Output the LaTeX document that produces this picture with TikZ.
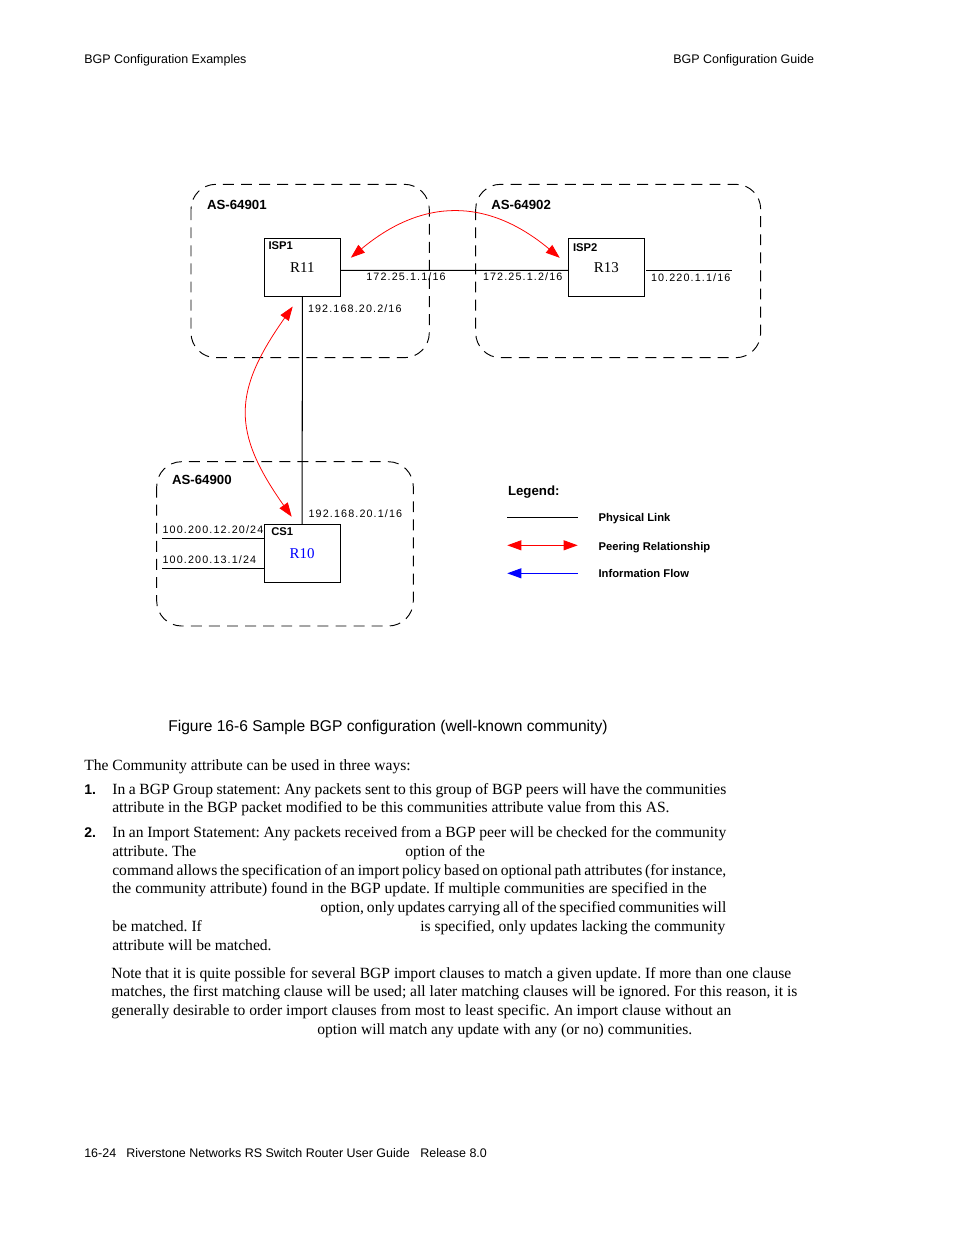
\documentclass[tikz,border=0pt]{standalone}
\usepackage{fontspec}
\setmainfont{Liberation Serif}
\setsansfont{Liberation Sans}
\newfontfamily\ipfont[LetterSpace=10.5]{Liberation Sans}
\usepackage{tikz}
\usetikzlibrary{arrows.meta,positioning,calc}
\newlength\pxu
\setlength\pxu{0.6415pt}
\newcommand\jl[2]{\makebox[#1\pxu][s]{#2}}
\frenchspacing

\begin{document}
\begin{tikzpicture}[x=0.6415pt, y=0.6415pt,
  every node/.style={inner sep=0pt, anchor=base west},
  asbox/.style={draw, line width=0.6pt, dash pattern=on 7pt off 4.6pt, rounded corners=16pt},
  router/.style={draw, line width=0.65pt, anchor=center, minimum width=48.8pt, minimum height=37pt, font=\fontsize{9.6}{10}\selectfont},
  aslabel/.style={font=\sffamily\bfseries\fontsize{8.5}{10}\selectfont},
  tag/.style={font=\sffamily\bfseries\fontsize{7.2}{8}\selectfont},
  ip/.style={font=\ipfont\fontsize{6.9}{8}\selectfont},
  link/.style={line width=0.65pt},
  peer/.style={red, line width=0.5pt, {Triangle[length=9pt,width=6.4pt]}-{Triangle[length=9pt,width=6.4pt]}},
  flow/.style={blue, line width=0.5pt, {Triangle[length=9pt,width=6.4pt]}-},
  hdr/.style={font=\sffamily\fontsize{8}{10}\selectfont},
  body/.style={font=\fontsize{10}{12}\selectfont},
  num/.style={font=\sffamily\bfseries\fontsize{9}{12}\selectfont}]
  \useasboundingbox (0,0) rectangle (954,-1235);

  % page head and foot
  \node[hdr] (headl) at (84,-63.5) {BGP Configuration Examples};
  \node[hdr] (headr) at (673,-63.5) {BGP Configuration Guide};
  \node[hdr] (footp) at (84,-1157) {16-24};
  \node[hdr] (foott) at (126,-1157) {Riverstone Networks RS Switch Router User Guide};
  \node[hdr] (footr) at (420,-1157) {Release 8.0};

  % autonomous systems
  \draw[asbox] (191,-184.3) rectangle (429.3,-357.7);
  \draw[asbox] (475.7,-184.3) rectangle (760.7,-357.7);
  \draw[asbox] (156.7,-461.7) rectangle (413.3,-626);
  \node[aslabel] (as1) at (206.7,-209.7) {AS-64901};
  \node[aslabel] (as2) at (491,-209.7) {AS-64902};
  \node[aslabel] (as0) at (171.7,-484.3) {AS-64900};

  % routers
  \node[router] (r11) at (302.3,-267.2) {R11};
  \node[router] (r13) at (606.3,-267.3) {R13};
  \node[router, text=blue] (r10) at (302.2,-553.7) {R10};
  \node[tag] (isp1) at (268.3,-249) {ISP1};
  \node[tag] (isp2) at (572.7,-251) {ISP2};
  \node[tag] (cs1) at (271,-535) {CS1};

  % physical links
  \coordinate (e13) at (731.7,-270.3);
  \coordinate (w12) at (162,-538.3);
  \coordinate (w13) at (162,-568);
  \draw[link] ([yshift=-2]r11.east) -- ([yshift=-2]r13.west);
  \draw[link] ([shift={(1.5,-3)}]r13.east) -- (e13);
  \draw[link] (r11.south) -- (r10.north);
  \draw[link] (w12) -- (w12 -| r10.west);
  \draw[link] (w13) -- (w13 -| r10.west);

  \node[ip] (ip1) at (366,-280) {172.25.1.1/16};
  \node[ip] (ip2) at (482.7,-280) {172.25.1.2/16};
  \node[ip] (ip3) at (650.7,-281) {10.220.1.1/16};
  \node[ip] (ip4) at (307.7,-312) {192.168.20.2/16};
  \node[ip] (ip5) at (308.3,-517.7) {192.168.20.1/16};
  \node[ip] (ip6) at (162.3,-533) {100.200.12.20/24};
  \node[ip] (ip7) at (162.3,-563.3) {100.200.13.1/24};

  % peering
  \draw[peer] ([shift={(10,9.5)}]r11.east) .. controls +(72,60) and +(-72,60) .. ([shift={(-8,9.5)}]r13.west);
  \draw[peer] ([shift={(-9.6,-10)}]r11.south) .. controls +(-60,-85) and +(-60,85) .. ([shift={(-10.5,7.6)}]r10.north);

  % legend
  \node[aslabel] (legend) at (507.7,-495) {Legend:};
  \coordinate (l1a) at (507.3,-517.3); \coordinate (l1b) at (577.7,-517.3);
  \coordinate (l2a) at (507.3,-545.3); \coordinate (l2b) at (577.7,-545.3);
  \coordinate (l3a) at (507.3,-573.3); \coordinate (l3b) at (577.7,-573.3);
  \draw[link] (l1a) -- (l1b);
  \draw[peer] (l2a) -- (l2b);
  \draw[flow] (l3a) -- (l3b);
  \node[tag] (lg1) at (598.3,-521.7) {Physical Link};
  \node[tag] (lg2) at (598.3,-550) {Peering Relationship};
  \node[tag] (lg3) at (598.3,-577.7) {Information Flow};

  \node[font=\sffamily\fontsize{10}{12}\selectfont] (caption) at (168,-731) {Figure 16-6 Sample BGP configuration (well-known community)};

  % body text
  \node[body] (b0) at (84,-770) {The Community attribute can be used in three ways:};
  \node[num] (n1) at (84,-794) {1.};
  \node[body] (b1) at (112,-794) {\jl{614}{In a BGP Group statement: Any packets sent to this group of BGP peers will have the communities}};
  \node[body] (b2) at (112,-812) {attribute in the BGP packet modified to be this communities attribute value from this AS.};
  \node[num] (n2) at (84,-837) {2.};
  \node[body] (b3) at (112,-837) {\jl{614}{In an Import Statement: Any packets received from a BGP peer will be checked for the community}};
  \node[body] (b4) at (112,-856) {attribute. The};
  \node[body] (b4r) at (405,-856) {option of the};
  \node[body] (b5) at (112,-875) {\jl{614}{command allows the specification of an import policy based on optional path attributes (for instance,}};
  \node[body] (b6) at (112,-893) {the community attribute) found in the BGP update. If multiple communities are specified in the};
  \node[body] (b7) at (320,-912) {\jl{406}{option, only updates carrying all of the specified communities will}};
  \node[body] (b8) at (112,-931) {be matched. If};
  \node[body] (b8r) at (420,-931) {\jl{305}{is specified, only updates lacking the community}};
  \node[body] (b9) at (112,-950) {attribute will be matched.};
  \node[body] (c1) at (111,-978) {\jl{680}{Note that it is quite possible for several BGP import clauses to match a given update. If more than one clause}};
  \node[body] (c2) at (111,-996) {\jl{686}{matches, the first matching clause will be used; all later matching clauses will be ignored. For this reason, it is}};
  \node[body] (c3) at (111,-1015) {generally desirable to order import clauses from most to least specific. An import clause without an};
  \node[body] (c4) at (317,-1034) {option will match any update with any (or no) communities.};
\end{tikzpicture}
\end{document}
